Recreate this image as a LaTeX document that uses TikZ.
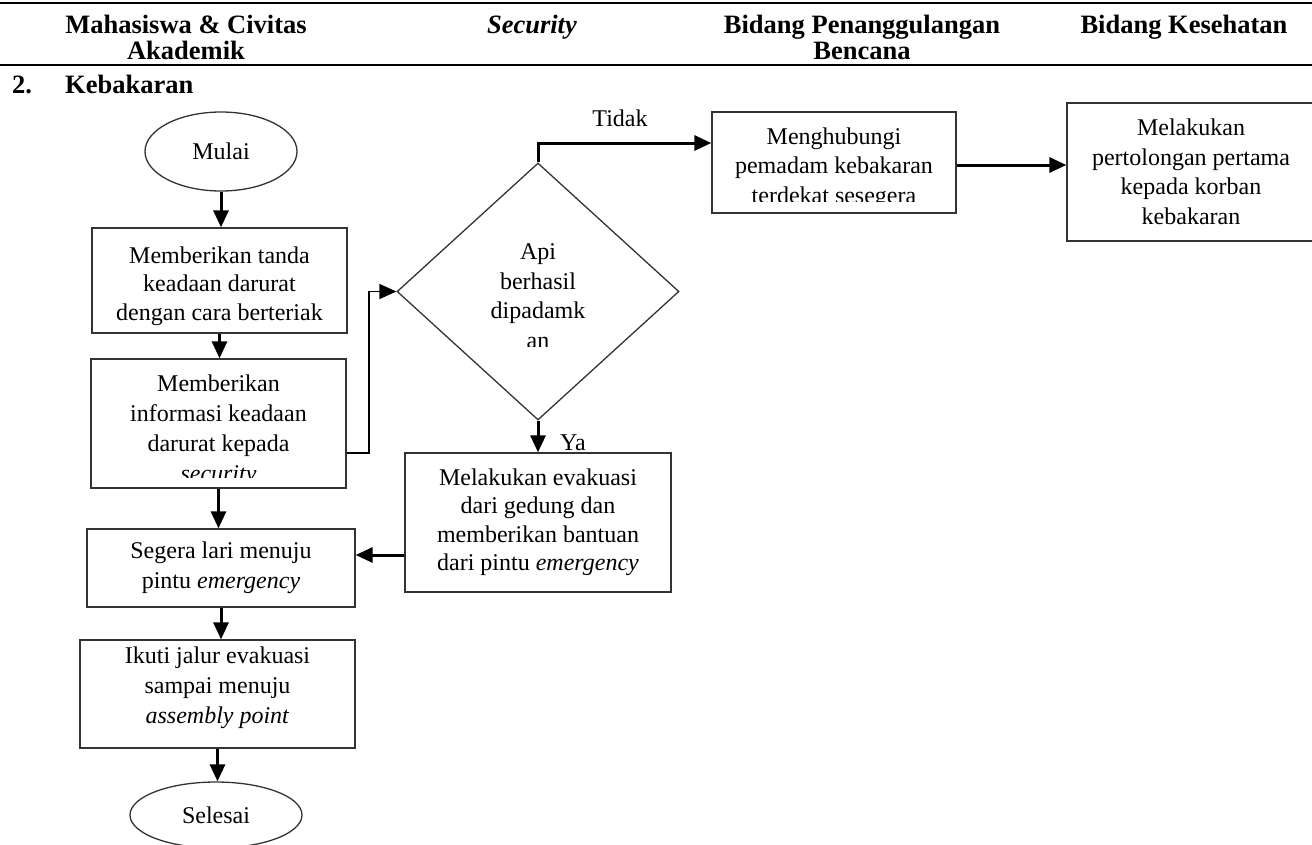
\documentclass[tikz,border=0pt]{standalone}
\usepackage{fontspec}
\setmainfont{Liberation Serif}
\usetikzlibrary{shapes.geometric,arrows.meta}

\begin{document}
\begin{tikzpicture}[x=1pt,y=-1pt,
  lead/.style={font=\fontsize{24}{#1}\selectfont},
  every node/.style={lead=29},
  box/.style={draw=black!80, line width=1.3pt, inner sep=0pt},
  term/.style={box, ellipse},
  txt/.style={align=center, inner sep=0pt},
  hdr/.style={font=\fontsize{26.5}{26}\selectfont\bfseries, align=center, inner sep=0pt},
  flow/.style={line width=3pt, -{Triangle[length=17pt,width=15pt]}},
  thinflow/.style={line width=1.7pt, -{Triangle[length=17pt,width=15pt]}},
  rule/.style={line width=2.8pt}
]
\useasboundingbox (0,0) rectangle (1312,844);

% table header
\coordinate (r1a) at (0,3);   \coordinate (r1b) at (1312,3);
\coordinate (r2a) at (0,65);  \coordinate (r2b) at (1312,65);
\draw[rule] (r1a) -- (r1b);
\draw[rule] (r2a) -- (r2b);
\node[hdr, anchor=north] (h1) at (186,15) {Mahasiswa \& Civitas\\Akademik};
\node[hdr, anchor=base] (h2) at (532,33) {\textit{Security}};
\node[hdr, anchor=north] (h3) at (862,15) {Bidang Penanggulangan\\Bencana};
\node[hdr, anchor=base] (h4) at (1184,33) {Bidang Kesehatan};
\node[hdr, anchor=base west] (sn) at (12,93) {2.};
\node[hdr, anchor=base west] (st) at (65,93) {Kebakaran};

% frames
\node[term, minimum width=152, minimum height=79] (mulai) at (221,151.5) {Mulai};
\node[box, minimum width=255, minimum height=105] (b1) at (219.5,280.5) {};
\node[box, minimum width=255, minimum height=129] (b2) at (218.5,423.5) {};
\node[box, diamond, minimum width=282, minimum height=257] (dia) at (538,291.5) {};
\node[box, minimum width=244, minimum height=101] (mh) at (834,162.5) {};
\node[box, minimum width=248, minimum height=138, txt, lead=29.5] (pp) at (1191,172)
  {Melakukan\\pertolongan pertama\\kepada korban\\kebakaran};
\node[box, minimum width=266, minimum height=139, txt, lead=28.5] (ev) at (538,522.5)
  {Melakukan evakuasi\\dari gedung dan\\memberikan bantuan\\dari pintu \textit{emergency}};
\node[box, minimum width=268, minimum height=78, txt, lead=30] (seg) at (221,568)
  {Segera lari menuju\\pintu \textit{emergency}};
\node[box, minimum width=275, minimum height=108] (ik) at (217.5,694) {};
\node[term, minimum width=172, minimum height=66] (sel) at (216,815) {Selesai};

% frame texts
\node[txt, anchor=north, lead=28.5] (b1t) at (219.5,246.6)
  {Memberikan tanda\\keadaan darurat\\dengan cara berteriak};
\node[txt, anchor=north, lead=30] (ikt) at (217.5,646.6)
  {Ikuti jalur evakuasi\\sampai menuju\\\textit{assembly point}};

% texts cut off by their frames
\begin{scope}
  \clip (b2.north west) rectangle (b2.east |- 0,477);
  \node[txt, anchor=north, lead=30] (b2t) at (218.5,374.6)
    {Memberikan\\informasi keadaan\\darurat kepada\\\textit{security}};
\end{scope}
\begin{scope}
  \clip (430,225) rectangle (650,346);
  \node[txt, anchor=north, lead=29.5] (diat) at (538,243.6) {Api\\berhasil\\dipadamk\\an};
\end{scope}
\begin{scope}
  \clip (mh.north west) rectangle (mh.east |- 0,201);
  \node[txt, anchor=north, lead=29.5] (mht) at (834,127.6)
    {Menghubungi\\pemadam kebakaran\\terdekat sesegera};
\end{scope}

% connectors
\draw[flow] (mulai.south) -- (mulai.south |- b1.north);
\draw[flow] (b1.south) -- (b1.south |- b2.north);
\draw[flow] (b2.south) -- (b2.south |- seg.north);
\draw[flow] (seg.south) -- (seg.south |- ik.north);
\draw[flow] (ik.south) -- (ik.south |- sel.north);
\draw[thinflow] ([yshift=-29.5pt]b2.east) -- ++(22.5,0) |- (dia.west);
\draw[flow] (dia.north) |- ([yshift=19.5pt]mh.west);
\draw[flow] ([yshift=-2.5pt]mh.east) -- ([yshift=-2.5pt]mh.east -| pp.west);
\draw[flow] (dia.south) -- (dia.south |- ev.north);
\draw[flow] (ev.west |- 0,555) -- ([yshift=13pt]seg.east);

% branch labels
\node (tidak) at (620,118) {Tidak};
\node (ya) at (573,443) {Ya};
\end{tikzpicture}
\end{document}
